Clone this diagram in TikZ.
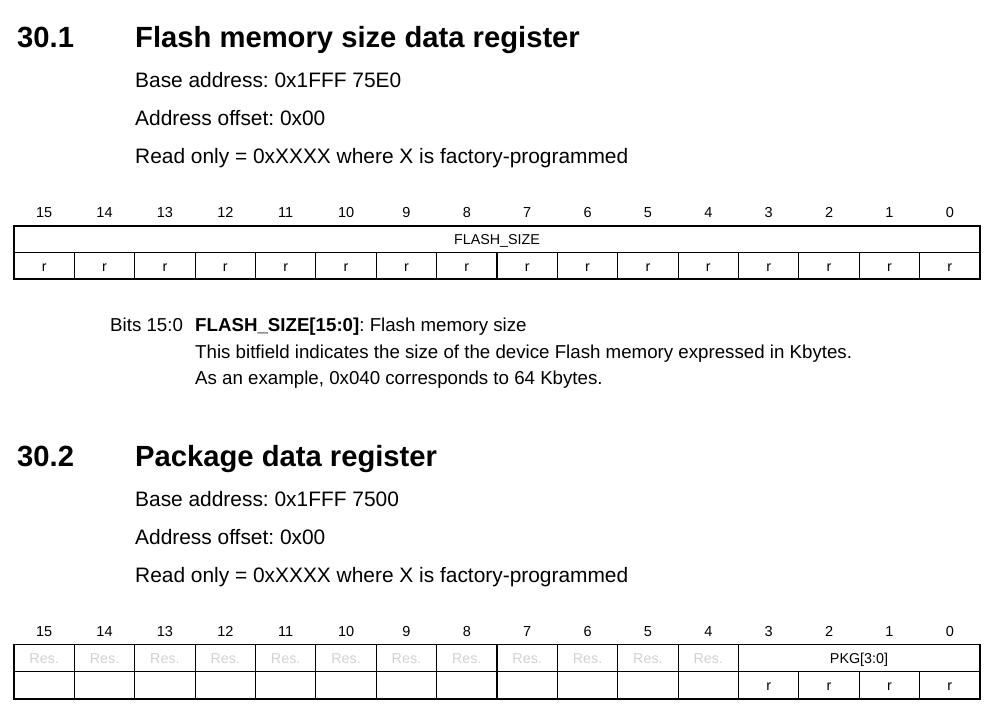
\documentclass[tikz,border=0pt]{standalone}
\usepackage{fontspec}
\setmainfont{Liberation Sans}
\frenchspacing
\begin{document}
\begin{tikzpicture}[x=1pt,y=-1pt]
\useasboundingbox (0,0) rectangle (999,716);
\tikzset{
 head/.style={anchor=base west, inner sep=0, font=\fontsize{29.2}{32}\selectfont\bfseries},
 body/.style={anchor=base west, inner sep=0, font=\fontsize{20.9}{24}\selectfont},
 desc/.style={anchor=base west, inner sep=0, font=\fontsize{18.7}{22}\selectfont},
 bitnum/.style={anchor=base, inner sep=0, font=\fontsize{14.5}{16}\selectfont},
 cell/.style={anchor=base, inner sep=0, font=\fontsize{14.3}{16}\selectfont},
 res/.style={cell, text=black!18},
 grid/.style={draw=black, line width=1.2pt}
}
% ---- Section 30.1
\node[head] (h1num) at (17,47) {30.1};
\node[head] (h1) at (135,47) {Flash memory size data register};
\node[body] (b1) at (135,87) {Base address: 0x1FFF 75E0};
\node[body] (o1) at (135,125) {Address offset: 0x00};
\node[body] (r1) at (135,163) {Read only = 0xXXXX where X is factory-programmed};
% table 1
\draw[grid] (14,226) rectangle (980,279);
\draw[grid] (14,252.5) -- (980,252.5);
\foreach \k in {1,...,15} {
  \draw[grid] ({14+60.375*\k},252.5) -- ({14+60.375*\k},279);
}
\foreach \i in {0,...,15} {
  \pgfmathsetmacro\xc{14+60.375*(\i+0.5)}
  \pgfmathtruncatemacro\b{15-\i}
  \node[bitnum] (ta\b) at (\xc,217) {\b};
  \node[cell] (tr\b) at (\xc,271) {r};
}
\node[cell] (fs) at (497,244) {FLASH\_SIZE};
% description
\node[desc] (bits) at (110,331) {Bits 15:0};
\node[desc] (d1) at (195,331) {\textbf{FLASH\_SIZE[15:0]}: Flash memory size};
\node[desc] (d2) at (195,358) {This bitfield indicates the size of the device Flash memory expressed in Kbytes.};
\node[desc] (d3) at (195,384) {As an example, 0x040 corresponds to 64 Kbytes.};
% ---- Section 30.2
\node[head] (h2num) at (17,466) {30.2};
\node[head] (h2) at (135,466) {Package data register};
\node[body] (b2) at (135,506) {Base address: 0x1FFF 7500};
\node[body] (o2) at (135,544) {Address offset: 0x00};
\node[body] (r2) at (135,582) {Read only = 0xXXXX where X is factory-programmed};
% table 2
\draw[grid] (14,644.5) rectangle (980,699);
\draw[grid] (14,671.5) -- (980,671.5);
\foreach \k in {1,...,15} {
  \draw[grid] ({14+60.375*\k},671.5) -- ({14+60.375*\k},699);
}
\foreach \k in {1,...,12} {
  \draw[grid] ({14+60.375*\k},644.5) -- ({14+60.375*\k},671.5);
}
\foreach \i in {0,...,15} {
  \pgfmathsetmacro\xc{14+60.375*(\i+0.5)}
  \pgfmathtruncatemacro\b{15-\i}
  \node[bitnum] (tb\b) at (\xc,636) {\b};
}
\foreach \i in {0,...,11} {
  \pgfmathsetmacro\xc{14+60.375*(\i+0.5)}
  \pgfmathtruncatemacro\b{15-\i}
  \node[res] (rs\b) at (\xc,663.5) {Res.};
}
\foreach \i in {12,...,15} {
  \pgfmathsetmacro\xc{14+60.375*(\i+0.5)}
  \pgfmathtruncatemacro\b{15-\i}
  \node[cell] (pr\b) at (\xc,690) {r};
}
\node[cell] (pkg) at (859,663.5) {PKG[3:0]};
\end{tikzpicture}
\end{document}
